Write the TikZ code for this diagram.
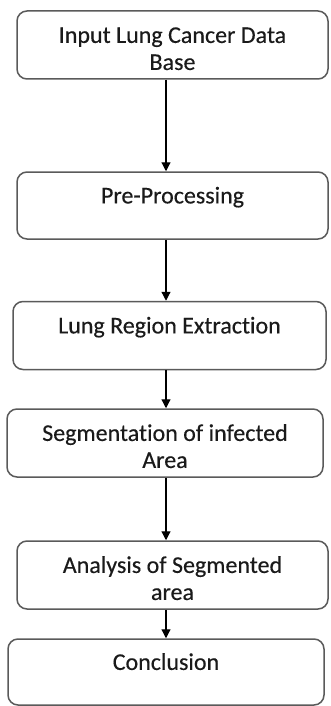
\documentclass[tikz,border=0pt]{standalone}
\usepackage{fontspec}
\setmainfont{Carlito}[Ligatures=NoCommon]
\usetikzlibrary{arrows.meta}
\definecolor{boxline}{HTML}{5A5A5A}
\definecolor{txt}{HTML}{1A1A1A}
\newcommand{\boxtext}[1]{\raisebox{-6pt}[\height][\depth]{\begin{tabular}{@{}c@{}}#1\end{tabular}}}
\tikzset{
  stepbox/.style={draw=boxline, line width=1.5pt, rounded corners=10pt, fill=white,
    align=center, text=txt, font=\fontsize{24}{27}\selectfont\addfontfeature{FakeBold=0.3}, inner sep=0pt},
  flow/.style={line width=1.2pt, -{Triangle[length=9pt,width=9pt]}}
}
\begin{document}
\begin{tikzpicture}[x=1pt,y=-1pt]
\useasboundingbox (0,0) rectangle (330,706);
\node[stepbox, minimum width=311pt, minimum height=68pt] (b1) at (172.5,45) {\boxtext{Input Lung Cancer Data\\Base}};
\node[stepbox, minimum width=311pt, minimum height=67pt] (b2) at (172.5,205.5) {\boxtext{Pre-Processing\\\strut}};
\node[stepbox, minimum width=313pt, minimum height=68pt] (b3) at (169.5,335.5) {\boxtext{Lung Region Extraction\\\strut}};
\node[stepbox, minimum width=316pt, minimum height=68pt] (b4) at (165,443) {\boxtext{Segmentation of infected\\Area}};
\node[stepbox, minimum width=311pt, minimum height=68pt] (b5) at (172.5,575) {\boxtext{Analysis of Segmented\\area}};
\node[stepbox, minimum width=316pt, minimum height=66pt] (b6) at (166,672) {\boxtext{Conclusion\\\strut}};
\coordinate (a) at (166,0);
\draw[flow] (b1.south -| a) -- (b2.north -| a);
\draw[flow] (b2.south -| a) -- (b3.north -| a);
\draw[flow] (b3.south -| a) -- (b4.north -| a);
\draw[flow] (b4.south -| a) -- (b5.north -| a);
\draw[flow] (b5.south -| a) -- (b6.north -| a);
\end{tikzpicture}
\end{document}
